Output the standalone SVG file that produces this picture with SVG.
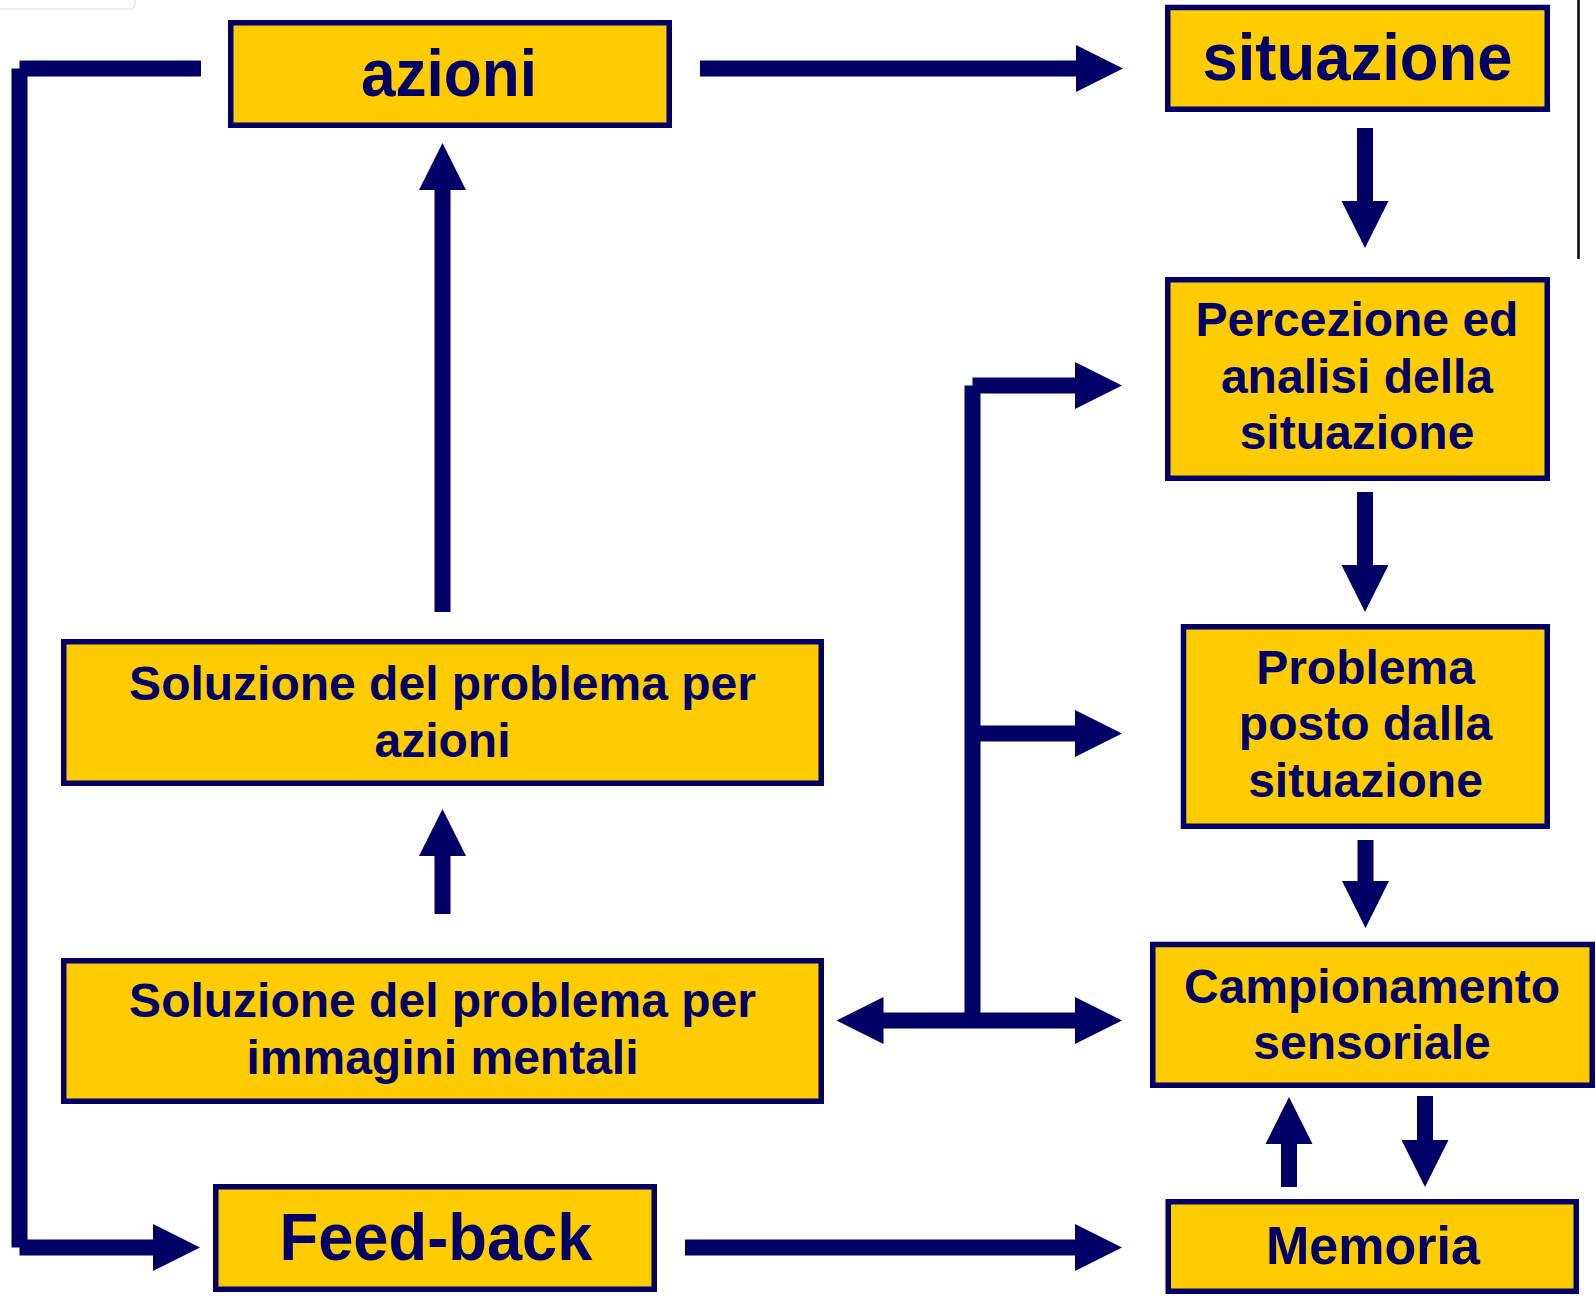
<svg xmlns="http://www.w3.org/2000/svg" xmlns:xlink="http://www.w3.org/1999/xlink" width="1596" height="1302" viewBox="0 0 1596 1302">
<style>
.box{fill:#FFCC00;stroke:#000066;stroke-width:5.5}
.t{font-family:"Liberation Sans",Arial,sans-serif;font-weight:bold;fill:#000066;text-anchor:middle}
.m{font-size:48px}
.shaft{stroke:#000066;stroke-width:16;fill:none;stroke-linecap:butt}
.head{fill:#000066}
</style>
<defs>
<polygon id="hd" points="-47,-23.5 0,0 -47,23.5"/>
</defs>
<rect width="1596" height="1302" fill="#ffffff"/>
<rect x="-10" y="-10" width="145" height="19" rx="5" fill="none" stroke="#e2e2e2" stroke-width="1.2"/>
<line x1="1578.5" y1="0" x2="1578.5" y2="259" stroke="#000000" stroke-width="2.5"/>

<g id="connectors">
  <!-- azioni -> situazione -->
  <line class="shaft" x1="700" y1="68.5" x2="1077" y2="68.5"/>
  <use xlink:href="#hd" class="head" transform="translate(1123,68.5)"/>
  <!-- situazione -> percezione -->
  <line class="shaft" x1="1365" y1="128" x2="1365" y2="202"/>
  <use xlink:href="#hd" class="head" transform="translate(1365,248) rotate(90)"/>
  <!-- percezione -> problema -->
  <line class="shaft" x1="1365" y1="492" x2="1365" y2="566"/>
  <use xlink:href="#hd" class="head" transform="translate(1365,612) rotate(90)"/>
  <!-- problema -> campionamento -->
  <line class="shaft" x1="1365.5" y1="840" x2="1365.5" y2="882"/>
  <use xlink:href="#hd" class="head" transform="translate(1365.5,928) rotate(90)"/>
  <!-- soluzione azioni -> azioni -->
  <line class="shaft" x1="442.5" y1="612" x2="442.5" y2="189"/>
  <use xlink:href="#hd" class="head" transform="translate(442.5,143) rotate(-90)"/>
  <!-- immagini -> soluzione azioni -->
  <line class="shaft" x1="442.5" y1="914" x2="442.5" y2="855"/>
  <use xlink:href="#hd" class="head" transform="translate(442.5,809) rotate(-90)"/>
  <!-- bus -->
  <line class="shaft" x1="972.5" y1="385.5" x2="972.5" y2="1020.5"/>
  <line class="shaft" x1="972.5" y1="385.5" x2="1077" y2="385.5"/>
  <use xlink:href="#hd" class="head" transform="translate(1122,385.5)"/>
  <line class="shaft" x1="972.5" y1="733.5" x2="1077" y2="733.5"/>
  <use xlink:href="#hd" class="head" transform="translate(1122,733.5)"/>
  <line class="shaft" x1="882" y1="1020.5" x2="1077" y2="1020.5"/>
  <use xlink:href="#hd" class="head" transform="translate(1122,1020.5)"/>
  <use xlink:href="#hd" class="head" transform="translate(836.5,1020.5) rotate(180)"/>
  <!-- feedback loop -->
  <line class="shaft" x1="19.5" y1="68.5" x2="201" y2="68.5"/>
  <line class="shaft" x1="19.5" y1="68.5" x2="19.5" y2="1247.5"/>
  <line class="shaft" x1="19.5" y1="1247.5" x2="155" y2="1247.5"/>
  <use xlink:href="#hd" class="head" transform="translate(200,1247.5)"/>
  <!-- feed-back -> memoria -->
  <line class="shaft" x1="685" y1="1247.5" x2="1077" y2="1247.5"/>
  <use xlink:href="#hd" class="head" transform="translate(1122,1247.5)"/>
  <!-- memoria -> campionamento -->
  <line class="shaft" x1="1289" y1="1187" x2="1289" y2="1142"/>
  <use xlink:href="#hd" class="head" transform="translate(1289,1097) rotate(-90)"/>
  <!-- campionamento -> memoria -->
  <line class="shaft" x1="1425" y1="1096" x2="1425" y2="1141"/>
  <use xlink:href="#hd" class="head" transform="translate(1425,1187) rotate(90)"/>
</g>

<g id="azioni">
  <rect class="box" x="230.75" y="22.75" width="438.5" height="102.5"/>
  <text class="t" x="449" y="96" font-size="66" textLength="176" lengthAdjust="spacingAndGlyphs">azioni</text>
</g>
<g id="situazione">
  <rect class="box" x="1167.75" y="7.5" width="379.5" height="101.75"/>
  <text class="t" x="1357.5" y="80" font-size="66" textLength="310" lengthAdjust="spacingAndGlyphs">situazione</text>
</g>
<g id="percezione">
  <rect class="box" x="1167.75" y="279.75" width="379.5" height="198.5"/>
  <text class="t m" x="1357" y="336">Percezione ed</text>
  <text class="t m" x="1357" y="393">analisi della</text>
  <text class="t m" x="1357" y="449">situazione</text>
</g>
<g id="problema">
  <rect class="box" x="1183.5" y="626.75" width="363.75" height="199.5"/>
  <text class="t m" x="1365.5" y="684">Problema</text>
  <text class="t m" x="1365.5" y="740">posto dalla</text>
  <text class="t m" x="1365.5" y="797">situazione</text>
</g>
<g id="soluzione-azioni">
  <rect class="box" x="63.75" y="641.75" width="757.5" height="141.5"/>
  <text class="t m" x="442.5" y="700">Soluzione del problema per</text>
  <text class="t m" x="442.5" y="757">azioni</text>
</g>
<g id="soluzione-immagini">
  <rect class="box" x="63.75" y="960.75" width="757.5" height="140.5"/>
  <text class="t m" x="442.5" y="1017">Soluzione del problema per</text>
  <text class="t m" x="442.5" y="1074">immagini mentali</text>
</g>
<g id="campionamento">
  <rect class="box" x="1152.75" y="944.5" width="439.5" height="140.75"/>
  <text class="t m" x="1372" y="1003">Campionamento</text>
  <text class="t m" x="1372" y="1059">sensoriale</text>
</g>
<g id="feedback">
  <rect class="box" x="215.75" y="1186.75" width="438.5" height="102.5"/>
  <text class="t" x="436" y="1260" font-size="66" textLength="313" lengthAdjust="spacingAndGlyphs">Feed-back</text>
</g>
<g id="memoria">
  <rect class="box" x="1168.25" y="1201.75" width="408" height="89.5"/>
  <text class="t" x="1373" y="1264" font-size="54" textLength="214" lengthAdjust="spacingAndGlyphs">Memoria</text>
</g>
</svg>
